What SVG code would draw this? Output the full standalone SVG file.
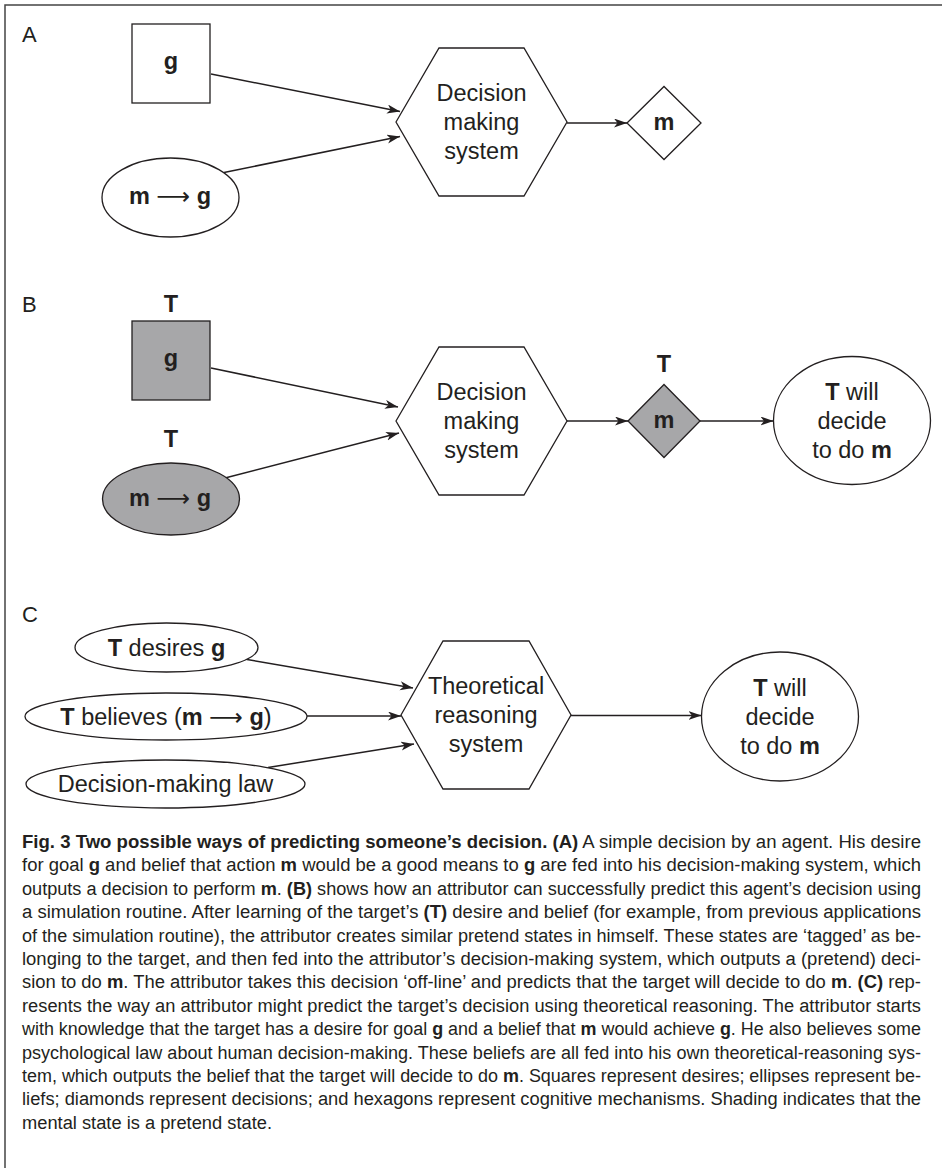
<svg xmlns="http://www.w3.org/2000/svg" width="942" height="1168" viewBox="0 0 942 1168">
<defs>
<marker id="ah" markerUnits="userSpaceOnUse" markerWidth="14" markerHeight="10" refX="13" refY="4.5" orient="auto">
<path d="M0,0 L13,4.5 L0,9 L3.5,4.5 Z" fill="#231f20"/>
</marker>
</defs>
<style>
.shape{fill:#fff;stroke:#231f20;stroke-width:1.3}
.gray{fill:#a7a7a9}
.conn line{stroke:#231f20;stroke-width:1.5;marker-end:url(#ah)}
.t{font-family:"Liberation Sans",Arial,sans-serif;font-size:23.5px;fill:#231f20;text-anchor:middle}
.b{font-weight:bold}
.lbl{font-family:"Liberation Sans",Arial,sans-serif;font-size:22px;fill:#231f20}
.arr{font-family:"DejaVu Sans",sans-serif;font-weight:normal}
.cap{font-family:"Liberation Sans",Arial,sans-serif;font-size:18px;fill:#231f20}
.frame{stroke:#444;stroke-width:1.5;fill:none}
</style>
<rect width="942" height="1168" fill="#fff"/>
<path class="frame" d="M5,1168 V5 H942"/>

<text class="lbl" x="22" y="42">A</text>
<text class="lbl" x="22" y="312">B</text>
<text class="lbl" x="22" y="622">C</text>

<g id="conn">
<g class="conn">
<line x1="211" y1="74" x2="400" y2="111.5"/>
<line x1="224" y1="172.5" x2="400" y2="136.5"/>
<line x1="567" y1="123" x2="627" y2="123"/>
<line x1="211" y1="368" x2="398" y2="407"/>
<line x1="225" y1="478" x2="399" y2="433"/>
<line x1="567" y1="421" x2="628" y2="421"/>
<line x1="700" y1="421" x2="773.5" y2="421"/>
<line x1="247" y1="659.5" x2="413" y2="688"/>
<line x1="307" y1="716" x2="401" y2="716"/>
<line x1="268" y1="767.5" x2="414" y2="744"/>
<line x1="571" y1="715.5" x2="701.5" y2="715.5"/>
</g>
</g>

<g id="a-desire">
<rect class="shape" x="132" y="24" width="78" height="79"/>
<text class="t b" x="171" y="69">g</text>
</g>
<g id="a-belief">
<ellipse class="shape" cx="170.5" cy="197.5" rx="68.5" ry="39.5"/>
<text class="t b" x="170" y="204">m <tspan class="arr">⟶</tspan> g</text>
</g>
<g id="a-dms">
<polygon class="shape" points="396,122 439,48 524,48 567,122 524,196 439,196"/>
<text class="t" x="481.5" y="101">Decision</text>
<text class="t" x="481.5" y="130">making</text>
<text class="t" x="481.5" y="159">system</text>
</g>
<g id="a-decision">
<polygon class="shape" points="627,123 664,86.5 701,123 664,159.5"/>
<text class="t b" x="664" y="130">m</text>
</g>

<g id="b-desire">
<text class="t b" x="171" y="312">T</text>
<rect class="shape gray" x="132" y="321" width="78" height="79"/>
<text class="t b" x="171" y="366">g</text>
</g>
<g id="b-belief">
<text class="t b" x="171" y="447">T</text>
<ellipse class="shape gray" cx="171" cy="499" rx="68.5" ry="36"/>
<text class="t b" x="170" y="506">m <tspan class="arr">⟶</tspan> g</text>
</g>
<g id="b-dms">
<polygon class="shape" points="396,421 439,347 524,347 567,421 524,495 439,495"/>
<text class="t" x="481.5" y="400">Decision</text>
<text class="t" x="481.5" y="429">making</text>
<text class="t" x="481.5" y="458">system</text>
</g>
<g id="b-decision">
<text class="t b" x="664" y="372">T</text>
<polygon class="shape gray" points="628,421 664,384.5 700,421 664,457.5"/>
<text class="t b" x="664" y="428">m</text>
</g>
<g id="b-prediction">
<ellipse class="shape" cx="852" cy="420.5" rx="78.5" ry="64"/>
<text class="t" x="852" y="399.5"><tspan class="b">T</tspan> will</text>
<text class="t" x="852" y="428.5">decide</text>
<text class="t" x="852" y="457.5">to do <tspan class="b">m</tspan></text>
</g>

<g id="c-desire">
<ellipse class="shape" cx="166.5" cy="647.5" rx="91.5" ry="24.5"/>
<text class="t" x="166.5" y="655.5"><tspan class="b">T</tspan> desires <tspan class="b">g</tspan></text>
</g>
<g id="c-belief">
<ellipse class="shape" cx="166" cy="716.5" rx="141" ry="23.5"/>
<text class="t" x="166" y="724.5"><tspan class="b">T</tspan> believes (<tspan class="b">m</tspan> <tspan class="arr">⟶</tspan> <tspan class="b">g</tspan>)</text>
</g>
<g id="c-law">
<ellipse class="shape" cx="165.5" cy="784" rx="139.5" ry="24"/>
<text class="t" x="165.5" y="792">Decision-making law</text>
</g>
<g id="c-trs">
<polygon class="shape" points="401,715 443,641 529,641 571,715 529,789 443,789"/>
<text class="t" x="486" y="694">Theoretical</text>
<text class="t" x="486" y="723">reasoning</text>
<text class="t" x="486" y="752">system</text>
</g>
<g id="c-prediction">
<ellipse class="shape" cx="780" cy="716.5" rx="78.5" ry="64.5"/>
<text class="t" x="780" y="695.5"><tspan class="b">T</tspan> will</text>
<text class="t" x="780" y="724.5">decide</text>
<text class="t" x="780" y="753.5">to do <tspan class="b">m</tspan></text>
</g>

<g id="caption" class="cap">
<text x="22" y="848" textLength="899" lengthAdjust="spacingAndGlyphs"><tspan class="b">Fig. 3 Two possible ways of predicting someone’s decision. (A)</tspan> A simple decision by an agent. His desire</text>
<text x="22" y="871.4" textLength="899" lengthAdjust="spacingAndGlyphs">for goal <tspan class="b">g</tspan> and belief that action <tspan class="b">m</tspan> would be a good means to <tspan class="b">g</tspan> are fed into his decision-making system, which</text>
<text x="22" y="894.8" textLength="899" lengthAdjust="spacingAndGlyphs">outputs a decision to perform <tspan class="b">m</tspan>. <tspan class="b">(B)</tspan> shows how an attributor can successfully predict this agent’s decision using</text>
<text x="22" y="918.2" textLength="899" lengthAdjust="spacingAndGlyphs">a simulation routine. After learning of the target’s <tspan class="b">(T)</tspan> desire and belief (for example, from previous applications</text>
<text x="22" y="941.6" textLength="899" lengthAdjust="spacingAndGlyphs">of the simulation routine), the attributor creates similar pretend states in himself. These states are ‘tagged’ as be-</text>
<text x="22" y="965" textLength="899" lengthAdjust="spacingAndGlyphs">longing to the target, and then fed into the attributor’s decision-making system, which outputs a (pretend) deci-</text>
<text x="22" y="988.4" textLength="899" lengthAdjust="spacingAndGlyphs">sion to do <tspan class="b">m</tspan>. The attributor takes this decision ‘off-line’ and predicts that the target will decide to do <tspan class="b">m</tspan>. <tspan class="b">(C)</tspan> rep-</text>
<text x="22" y="1011.8" textLength="899" lengthAdjust="spacingAndGlyphs">resents the way an attributor might predict the target’s decision using theoretical reasoning. The attributor starts</text>
<text x="22" y="1035.2" textLength="899" lengthAdjust="spacingAndGlyphs">with knowledge that the target has a desire for goal <tspan class="b">g</tspan> and a belief that <tspan class="b">m</tspan> would achieve <tspan class="b">g</tspan>. He also believes some</text>
<text x="22" y="1058.6" textLength="899" lengthAdjust="spacingAndGlyphs">psychological law about human decision-making. These beliefs are all fed into his own theoretical-reasoning sys-</text>
<text x="22" y="1082" textLength="899" lengthAdjust="spacingAndGlyphs">tem, which outputs the belief that the target will decide to do <tspan class="b">m</tspan>. Squares represent desires; ellipses represent be-</text>
<text x="22" y="1105.4" textLength="899" lengthAdjust="spacingAndGlyphs">liefs; diamonds represent decisions; and hexagons represent cognitive mechanisms. Shading indicates that the</text>
<text x="22" y="1128.8" textLength="250" lengthAdjust="spacingAndGlyphs">mental state is a pretend state.</text>
</g>
</svg>
